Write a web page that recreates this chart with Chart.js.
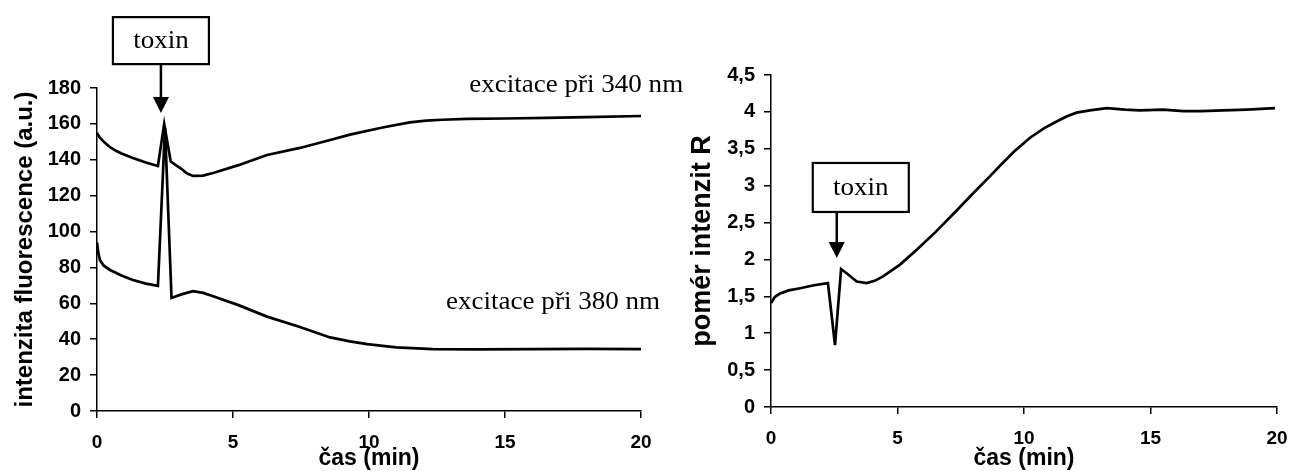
<!DOCTYPE html>
<html>
<head>
<meta charset="utf-8">
<script src="https://cdn.jsdelivr.net/npm/chart.js@4.4.1/dist/chart.umd.min.js"></script>
<style>
  body { margin: 0; background: #fff; width: 1292px; height: 471px; overflow: hidden; position: relative; }
  .wrap { position: absolute; top: 0; height: 471px; }
</style>
</head>
<body>
<div class="wrap" style="left:0;width:700px"><canvas id="leftChart"></canvas></div>
<div class="wrap" style="left:680px;width:612px"><canvas id="rightChart"></canvas></div>
<script>
// ---- data ----
// left: fluorescence intensity at 340 nm and 380 nm excitation
var time340 = [0, 0.1, 0.25, 0.48, 0.7, 0.9, 1.32, 1.8, 2.24, 2.47, 2.71, 2.9, 3.1, 3.3, 3.53, 3.9, 4.27, 5.2, 6.25, 7.46, 8.57, 9.3, 10.5, 11.5, 12.1, 12.7, 13.6, 15, 16.5, 18, 20]
var val340 = [155, 152.5, 150, 147, 145, 143.5, 141, 138.5, 136.5, 160, 139, 137, 135, 132.5, 131, 131.2, 132.6, 137, 142.7, 146.6, 151, 154, 158, 160.8, 161.8, 162.3, 162.8, 163, 163.4, 163.8, 164.4]

var time380 = [0, 0.05, 0.11, 0.25, 0.48, 0.9, 1.32, 1.8, 2.24, 2.5, 2.74, 3.1, 3.53, 3.9, 4.27, 5.2, 6.25, 7.46, 8.57, 9.3, 9.93, 11, 12.35, 14, 16, 18, 20]
var val380 = [94, 88, 84, 81, 78.6, 75.5, 73, 71, 69.7, 158, 63, 65, 66.8, 65.8, 64, 59, 52.6, 46.8, 41, 38.8, 37.3, 35.5, 34.5, 34.3, 34.5, 34.6, 34.5]

// right: intensity ratio R
var timeR = [0, 0.15, 0.36, 0.7, 1.15, 1.7, 2.25, 2.53, 2.77, 3.0, 3.39, 3.78, 4.1, 4.43, 5.1, 5.76, 6.5, 7.3, 8.0, 8.66, 9.05, 9.6, 10.24, 10.8, 11.29, 11.7, 12.08, 12.6, 13.27, 14.0, 14.58, 15.5, 16.3, 17.0, 17.87, 18.8, 19.92]
var valR = [1.41, 1.49, 1.54, 1.58, 1.61, 1.65, 1.68, 0.84, 1.87, 1.81, 1.70, 1.68, 1.71, 1.77, 1.93, 2.13, 2.37, 2.65, 2.9, 3.13, 3.27, 3.46, 3.65, 3.78, 3.87, 3.94, 3.99, 4.02, 4.05, 4.03, 4.02, 4.03, 4.01, 4.01, 4.02, 4.03, 4.05]

// tick labels
var xTicks = ['0', '5', '10', '15', '20']
var yTicksLeft = ['0', '20', '40', '60', '80', '100', '120', '140', '160', '180']
var yTicksRight = ['0', '0,5', '1', '1,5', '2', '2,5', '3', '3,5', '4', '4,5']

var xTitle = 'čas (min)'
var yTitleLeft = 'intenzita fluorescence (a.u.)'
var yTitleRight = 'pomér intenzit R'

Chart.defaults.color = '#000'
Chart.defaults.font.family = '"Liberation Sans", Arial, sans-serif'

function toPoints(xs, ys) {
    var pts = []
    for (var i = 0; i < xs.length; i++) pts.push({x: xs[i], y: ys[i]})
    return pts
}

function lineSet(xs, ys) {
    return {
        data: toPoints(xs, ys),
        borderColor: '#000',
        borderWidth: 2.7,
        borderJoinStyle: 'miter',
        pointRadius: 0,
        fill: false,
        tension: 0
    }
}

// draws the "toxin" box with arrow and the serif labels
var annotate = {
    id: 'annotate',
    afterDraw: function (chart, args, opts) {
        var ctx = chart.ctx
        var xs = chart.scales.x, ys = chart.scales.y
        ctx.save()
        ctx.strokeStyle = '#000'
        ctx.fillStyle = '#000'
        ctx.font = '26px "Liberation Serif", "Times New Roman", serif'
        ctx.textBaseline = 'middle'

        var b = opts.box
        var ax = xs.getPixelForValue(b.at[0])
        var tip = ys.getPixelForValue(b.at[1])
        var bx = ax - b.offset
        var by = tip - b.arrowLen - b.h
        ctx.lineWidth = 2.2
        ctx.strokeRect(bx, by, b.w, b.h)
        ctx.lineWidth = 2.5
        ctx.beginPath()
        ctx.moveTo(ax, by + b.h)
        ctx.lineTo(ax, tip - 14)
        ctx.stroke()
        ctx.beginPath()
        ctx.moveTo(ax - 8, tip - 16)
        ctx.lineTo(ax + 8, tip - 16)
        ctx.lineTo(ax, tip)
        ctx.closePath()
        ctx.fill()
        stretchText(ctx, 'toxin', bx + b.w / 2, by + b.h / 2 + 1, 'center')

        var labels = opts.labels || []
        labels.forEach(function (l) {
            stretchText(ctx, l.text, xs.getPixelForValue(l.at[0]), ys.getPixelForValue(l.at[1]), 'right')
        })
        ctx.restore()
    }
}

function stretchText(ctx, text, x, y, align) {
    ctx.save()
    ctx.translate(x, y)
    ctx.scale(1.04, 1)
    ctx.textAlign = align
    ctx.fillText(text, 0, 0)
    ctx.restore()
}

function makeScales(yMax, yStep, yLabels, yWidth, yTitle, yTitleSize, yTitlePad, xHeight) {
    var axisGrid = {drawOnChartArea: false, color: '#000', tickLength: 7, lineWidth: 1.5}
    var axisBorder = {color: '#000', width: 1.5}
    return {
        x: {
            type: 'linear', min: 0, max: 20,
            grid: axisGrid, border: axisBorder,
            ticks: {
                stepSize: 5, padding: 13, maxRotation: 0,
                font: {size: 19, weight: 'bold'},
                callback: function (v) { return xTicks[v / 5] }
            },
            title: {display: true, text: xTitle, font: {size: 23, weight: 'bold', lineHeight: 1}, padding: {top: 0, bottom: 1}},
            afterFit: function (s) {
                s.height = xHeight
                s.paddingLeft = 0
                s.paddingRight = 0
            }
        },
        y: {
            min: 0, max: yMax,
            grid: axisGrid, border: axisBorder,
            ticks: {
                stepSize: yStep, padding: 9,
                font: {size: 20, weight: 'bold'},
                callback: function (v) { return yLabels[Math.round(v / yStep)] }
            },
            title: {display: true, text: yTitle, font: {size: yTitleSize, weight: 'bold', lineHeight: 1}, padding: {top: yTitlePad, bottom: 0}},
            afterFit: function (s) {
                s.width = yWidth
                s.paddingTop = 0
                s.paddingBottom = 0
            }
        }
    }
}

var leftChart = new Chart(document.getElementById('leftChart').getContext('2d'), {
    type: 'line',
    data: {datasets: [lineSet(time340, val340), lineSet(time380, val380)]},
    options: {
        responsive: true,
        maintainAspectRatio: false,
        animation: false,
        layout: {padding: {top: 88, right: 59, left: 0, bottom: 0}},
        plugins: {
            legend: {display: false},
            tooltip: {enabled: false},
            annotate: {
                box: {at: [2.35, 166], offset: 48, w: 96, h: 47, arrowLen: 49},
                labels: [
                    {text: 'excitace při 340 nm', at: [21.55, 181.7]},
                    {text: 'excitace při 380 nm', at: [20.7, 60.8]}
                ]
            }
        },
        scales: makeScales(180, 20, yTicksLeft, 97, yTitleLeft, 24, 13, 60)
    },
    plugins: [annotate]
})

var rightChart = new Chart(document.getElementById('rightChart').getContext('2d'), {
    type: 'line',
    data: {datasets: [lineSet(timeR, valR)]},
    options: {
        responsive: true,
        maintainAspectRatio: false,
        animation: false,
        layout: {padding: {top: 75, right: 15, left: 0, bottom: 0}},
        plugins: {
            legend: {display: false},
            tooltip: {enabled: false},
            annotate: {
                box: {at: [2.6, 2.02], offset: 24, w: 96, h: 49, arrowLen: 46}
            }
        },
        scales: makeScales(4.5, 0.5, yTicksRight, 91, yTitleRight, 27, 9, 64)
    },
    plugins: [annotate]
})
</script>
</body>
</html>
